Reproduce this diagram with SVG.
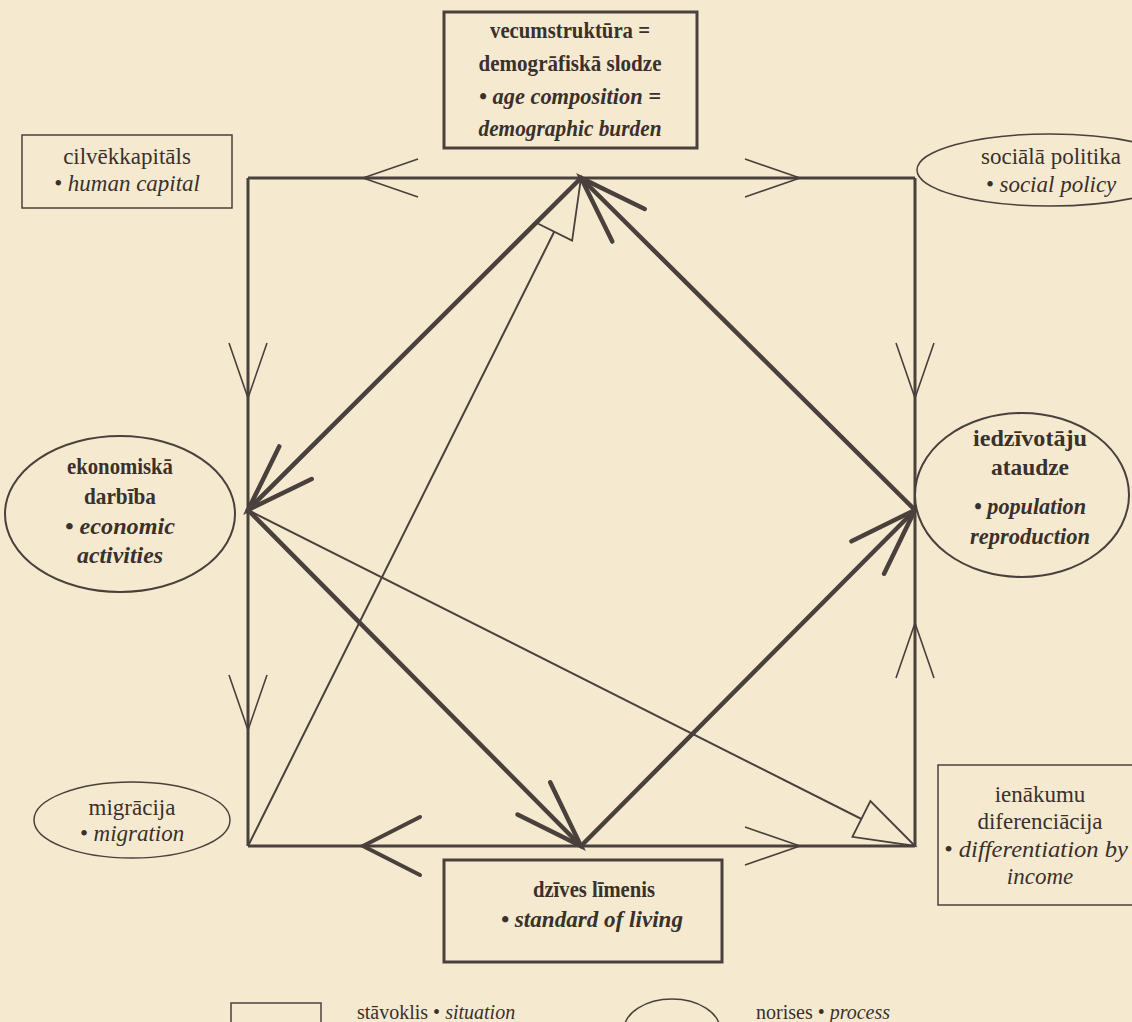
<svg xmlns="http://www.w3.org/2000/svg" width="1132" height="1022" viewBox="0 0 1132 1022">
<defs>
<style>
.t{font-family:"Liberation Serif","Times New Roman",serif;fill:#3a302c;text-anchor:middle}
.b{font-weight:bold;font-size:23px}
.r{font-size:23px}
.i{font-style:italic}
.lg{font-family:"Liberation Serif","Times New Roman",serif;fill:#3a302c;font-size:20px}
.sh{fill:#f5ead0;stroke:#4a403c}
.edge{fill:none;stroke:#4a403c;stroke-width:3}
.thick{fill:none;stroke:#4a403c;stroke-width:4.5;stroke-linecap:round}
.thin{fill:none;stroke:#4a403c;stroke-width:2}
</style>
<marker id="mThin" markerUnits="userSpaceOnUse" orient="auto" markerWidth="140" markerHeight="100" viewBox="-70 -50 140 100" refX="0" refY="0" overflow="visible">
<path d="M-55,-19 L0,0 L-55,19" fill="none" stroke="#4a403c" stroke-width="1.6"/>
</marker>
<marker id="mMidThick" markerUnits="userSpaceOnUse" orient="auto" markerWidth="140" markerHeight="100" viewBox="-70 -50 140 100" refX="0" refY="0" overflow="visible">
<path d="M-57,-29 L0,0 L-57,29" fill="none" stroke="#4a403c" stroke-width="4" stroke-linecap="round"/>
</marker>
<marker id="mEnd" markerUnits="userSpaceOnUse" orient="auto" markerWidth="160" markerHeight="100" viewBox="-80 -50 160 100" refX="0" refY="0" overflow="visible">
<path d="M-67,-23 L0,0 L-67,23" fill="none" stroke="#4a403c" stroke-width="4.5" stroke-linecap="round"/>
</marker>
<marker id="mTri" markerUnits="userSpaceOnUse" orient="auto" markerWidth="160" markerHeight="100" viewBox="-80 -50 160 100" refX="0" refY="0" overflow="visible">
<path d="M0,0 L-60,-20 L-60,20 Z" fill="#f5ead0" stroke="#4a403c" stroke-width="1.8" stroke-linejoin="miter"/>
</marker>
</defs>
<rect width="1132" height="1022" fill="#f5ead0"/>

<g id="connectors">
<path class="thin" d="M248,846 L581,178" marker-end="url(#mTri)"/>
<path class="thin" stroke-width="2.5" d="M248,510 L915,846" marker-end="url(#mTri)"/>
<path class="edge" d="M581,178 L363,178 L248,178" marker-mid="url(#mThin)"/>
<path class="edge" d="M581,178 L800,178 L915,178" marker-mid="url(#mThin)"/>
<path class="edge" d="M248,178 L248,398 L248,510" marker-mid="url(#mThin)"/>
<path class="edge" d="M248,510 L248,730 L248,846" marker-mid="url(#mThin)"/>
<path class="edge" d="M915,178 L915,398 L915,510" marker-mid="url(#mThin)"/>
<path class="edge" d="M915,846 L915,623 L915,510" marker-mid="url(#mThin)"/>
<path class="edge" d="M581,846 L363,846 L248,846" marker-mid="url(#mMidThick)"/>
<path class="edge" d="M581,846 L800,846 L915,846" marker-mid="url(#mThin)"/>
<path class="thick" d="M581,178 L248,510" marker-end="url(#mEnd)"/>
<path class="thick" d="M915,510 L581,178" marker-end="url(#mEnd)"/>
<path class="thick" d="M248,510 L581,846" marker-end="url(#mEnd)"/>
<path class="thick" d="M581,846 L915,510" marker-end="url(#mEnd)"/>
</g>

<g id="node-vecumstruktura">
<rect class="sh" x="444" y="12" width="253" height="136" stroke-width="3"/>
<text class="t b" x="570" y="38" textLength="160" lengthAdjust="spacingAndGlyphs">vecumstruktūra =</text>
<text class="t b" x="570" y="71" textLength="183" lengthAdjust="spacingAndGlyphs">demogrāfiskā slodze</text>
<text class="t b i" x="570" y="104" textLength="182" lengthAdjust="spacingAndGlyphs">• age composition =</text>
<text class="t b i" x="570" y="136" textLength="183" lengthAdjust="spacingAndGlyphs">demographic burden</text>
</g>

<g id="node-cilvekkapitals">
<rect class="sh" x="22" y="135" width="210" height="73" stroke-width="1.5"/>
<text class="t r" x="127" y="164">cilvēkkapitāls</text>
<text class="t r i" x="127" y="191">• human capital</text>
</g>

<g id="node-sociala-politika">
<ellipse class="sh" cx="1050" cy="170" rx="133" ry="36" stroke-width="1.5"/>
<text class="t r" x="1051" y="164">sociālā politika</text>
<text class="t r i" x="1051" y="192">• social policy</text>
</g>

<g id="node-ekonomiska-darbiba">
<ellipse class="sh" cx="120" cy="514" rx="115" ry="78" stroke-width="2"/>
<text class="t b" x="120" y="474" textLength="106" lengthAdjust="spacingAndGlyphs">ekonomiskā</text>
<text class="t b" x="120" y="504" textLength="72" lengthAdjust="spacingAndGlyphs">darbība</text>
<text class="t b i" x="120" y="534" textLength="110" lengthAdjust="spacingAndGlyphs">• economic</text>
<text class="t b i" x="120" y="563" textLength="86" lengthAdjust="spacingAndGlyphs">activities</text>
</g>

<g id="node-iedzivotaju-ataudze">
<ellipse class="sh" cx="1022" cy="495" rx="107" ry="82" stroke-width="2"/>
<text class="t b" x="1030" y="446" textLength="114" lengthAdjust="spacingAndGlyphs">iedzīvotāju</text>
<text class="t b" x="1030" y="475" textLength="78" lengthAdjust="spacingAndGlyphs">ataudze</text>
<text class="t b i" x="1030" y="514" textLength="112" lengthAdjust="spacingAndGlyphs">• population</text>
<text class="t b i" x="1030" y="544" textLength="120" lengthAdjust="spacingAndGlyphs">reproduction</text>
</g>

<g id="node-migracija">
<ellipse class="sh" cx="132" cy="820" rx="98" ry="38" stroke-width="1.5"/>
<text class="t r" x="132" y="815">migrācija</text>
<text class="t r i" x="132" y="841">• migration</text>
</g>

<g id="node-ienakumu-diferenciacija">
<rect class="sh" x="938" y="765" width="200" height="140" stroke-width="1.5"/>
<text class="t r" x="1040" y="802">ienākumu</text>
<text class="t r" x="1040" y="829">diferenciācija</text>
<text class="t r i" x="1036" y="857" textLength="184" lengthAdjust="spacingAndGlyphs">• differentiation by</text>
<text class="t r i" x="1040" y="884">income</text>
</g>

<g id="node-dzives-limenis">
<rect class="sh" x="444" y="860" width="278" height="102" stroke-width="3"/>
<text class="t b" x="594" y="897" textLength="122" lengthAdjust="spacingAndGlyphs">dzīves līmenis</text>
<text class="t b i" x="592" y="927" textLength="182" lengthAdjust="spacingAndGlyphs">• standard of living</text>
</g>

<g id="legend">
<rect class="sh" x="231" y="1003" width="90" height="40" stroke-width="1.5"/>
<text class="lg" x="357" y="1019">stāvoklis • <tspan font-style="italic">situation</tspan></text>
<ellipse class="sh" cx="672" cy="1030" rx="48" ry="31" stroke-width="1.5"/>
<text class="lg" x="756" y="1019">norises • <tspan font-style="italic">process</tspan></text>
</g>
</svg>
